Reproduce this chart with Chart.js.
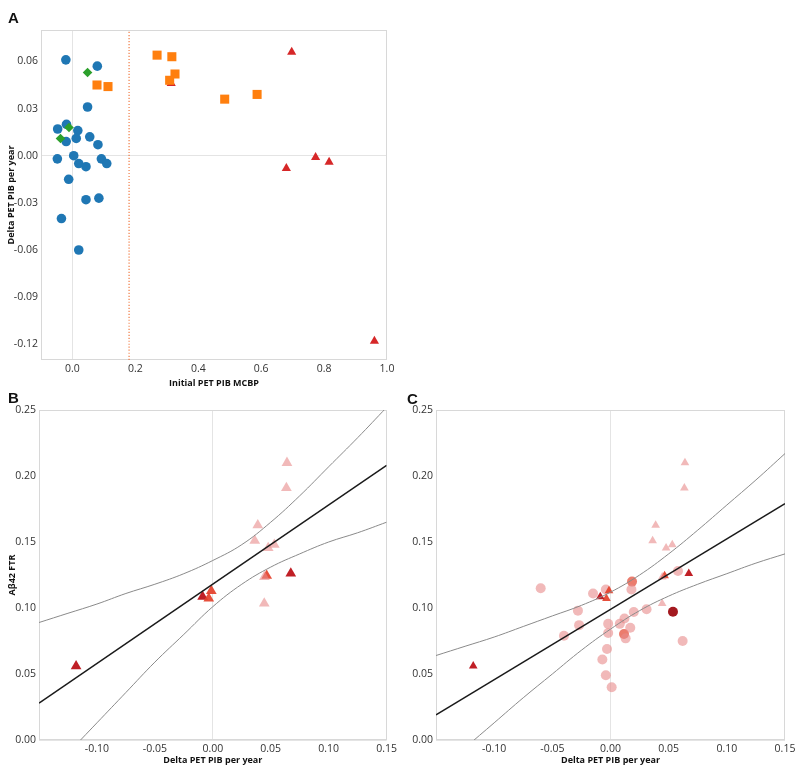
<!DOCTYPE html>
<html>
<head>
<meta charset="utf-8">
<script src="https://cdn.jsdelivr.net/npm/chart.js@4.4.1/dist/chart.umd.min.js"></script>
<style>
    body { margin: 0; background: #fff; }
    #wrap { position: relative; width: 800px; height: 780px; }
    .panel { position: absolute; width: 400px; height: 395px; }
    .tag { position: absolute; font: bold 15px "Liberation Sans", Arial, sans-serif; line-height: 15px; color: #111; }
</style>
</head>
<body>
<div id="wrap">
    <div class="panel" style="left:0;top:0"><canvas id="chartA" width="400" height="395"></canvas></div>
    <div class="panel" style="left:0;top:385px"><canvas id="chartB" width="400" height="395"></canvas></div>
    <div class="panel" style="left:400px;top:385px"><canvas id="chartC" width="400" height="395"></canvas></div>
    <div class="tag" style="left:8px;top:10px">A</div>
    <div class="tag" style="left:8px;top:390px">B</div>
    <div class="tag" style="left:407px;top:391px">C</div>
</div>
<script>
(function() {
    'use strict';

    // Panel A
    var aXTicks = [0, 0.2, 0.4, 0.6, 0.8, 1.0];
    var aYTicks = [-0.12, -0.09, -0.06, -0.03, 0, 0.03, 0.06];
    var aXRange = [-0.1, 1.0];
    var aYRange = [-0.13, 0.08];
    var aCutoff = 0.18;

    var aBlueX = [-0.021, 0.079, 0.048, -0.047, -0.019, 0.017, 0.012, -0.020, 0.055, 0.081, -0.048,
                  0.004, 0.020, 0.043, 0.092, 0.109, -0.012, 0.043, 0.084, -0.035, 0.020];
    var aBlueY = [0.061, 0.057, 0.031, 0.017, 0.020, 0.016, 0.011, 0.009, 0.012, 0.007, -0.002,
                  0.000, -0.005, -0.007, -0.002, -0.005, -0.015, -0.028, -0.027, -0.040, -0.060];
    var aGreenX = [0.048, -0.011, -0.038];
    var aGreenY = [0.053, 0.018, 0.011];
    var aOrangeX = [0.269, 0.316, 0.326, 0.309, 0.078, 0.113, 0.484, 0.587];
    var aOrangeY = [0.064, 0.063, 0.052, 0.048, 0.045, 0.044, 0.036, 0.039];
    var aRedX = [0.697, 0.314, 0.680, 0.773, 0.816, 0.960];
    var aRedY = [0.066, 0.046, -0.008, -0.001, -0.004, -0.118];

    // Panels B and C
    var bcXTicks = [-0.10, -0.05, 0, 0.05, 0.10, 0.15];
    var bcYTicks = [0, 0.05, 0.10, 0.15, 0.20, 0.25];
    var bcXRange = [-0.15, 0.15];
    var bcYRange = [0, 0.25];

    var triLightX = [0.064, 0.0635, 0.0388, 0.0362, 0.0478, 0.0531, 0.0445, 0.0444];
    var triLightY = [0.210, 0.191, 0.1627, 0.151, 0.1455, 0.148, 0.1235, 0.1035];
    var triMidX = [0.0465, -0.0013, -0.0035];
    var triMidY = [0.1245, 0.113, 0.1072];
    var triDarkX = [0.0673, -0.0088, -0.118];
    var triDarkY = [0.1262, 0.1086, 0.056];

    var cCircLightX = [-0.060, -0.015, -0.004, 0.018, -0.028, -0.027, -0.040, -0.002, 0.008, 0.012, 0.020,
                       0.031, 0.017, -0.002, 0.013, -0.003, -0.007, -0.004, 0.001, 0.062, 0.058];
    var cCircLightY = [0.115, 0.111, 0.114, 0.114, 0.098, 0.087, 0.079, 0.088, 0.088, 0.092, 0.097,
                       0.099, 0.085, 0.081, 0.077, 0.069, 0.061, 0.049, 0.040, 0.075, 0.128];
    var cCircMidX = [0.0185, 0.0116];
    var cCircMidY = [0.120, 0.0803];
    var cCircDarkX = [0.0537];
    var cCircDarkY = [0.0972];

    var bandX = [-0.15, -0.125, -0.10, -0.075, -0.05, -0.025, 0, 0.025, 0.05, 0.075, 0.10, 0.125, 0.15];
    var bUpper = [0.089, 0.096, 0.103, 0.111, 0.118, 0.126, 0.136, 0.148, 0.165, 0.185, 0.207, 0.229, 0.252];
    var bLower = [-0.033, -0.010, 0.013, 0.036, 0.059, 0.080, 0.101, 0.118, 0.131, 0.141, 0.150, 0.157, 0.165];
    var bFitX = [-0.15, 0.15];
    var bFitY = [0.028, 0.208];
    var cUpper = [0.064, 0.071, 0.078, 0.086, 0.094, 0.102, 0.112, 0.125, 0.141, 0.159, 0.178, 0.197, 0.217];
    var cLower = [-0.026, -0.006, 0.013, 0.032, 0.050, 0.068, 0.084, 0.098, 0.109, 0.118, 0.126, 0.134, 0.141];
    var cFitX = [-0.15, 0.15];
    var cFitY = [0.019, 0.179];

    var LIGHT = 'rgba(232,138,138,0.6)';
    var MID = 'rgba(228,64,42,0.92)';
    var DARK = '#c01f26';

    var framePlugin = {
        id: 'frame',
        beforeDatasetsDraw: function(chart) {
            var a = chart.chartArea;
            var ctx = chart.ctx;
            ctx.save();
            ctx.strokeStyle = '#d8d8d8';
            ctx.lineWidth = 1;
            ctx.strokeRect(Math.round(a.left) + 0.5, Math.round(a.top) + 0.5,
                Math.round(a.right - a.left) - 1, Math.round(a.bottom - a.top) - 1);
            ctx.restore();
        }
    };

    function pts(xs, ys) {
        return xs.map(function(x, i) { return { x: x, y: ys[i] }; });
    }

    function marks(xs, ys, style, radius, color) {
        return {
            data: pts(xs, ys),
            pointStyle: style,
            pointRadius: radius,
            pointBackgroundColor: color,
            pointBorderWidth: 0,
            showLine: false
        };
    }

    function curve(xs, ys, color, width, dash) {
        return {
            data: pts(xs, ys),
            showLine: true,
            borderColor: color,
            borderWidth: width,
            borderDash: dash || [],
            pointRadius: 0,
            tension: 0.4,
            clip: { left: 0, top: 0, right: 0, bottom: 0 }
        };
    }

    function axis(range, ticks, decimals, title, size, titlePad) {
        return {
            type: 'linear',
            min: range[0],
            max: range[1],
            afterBuildTicks: function(s) {
                s.ticks = ticks.map(function(v) { return { value: v }; });
            },
            afterFit: function(s) {
                if (s.isHorizontal()) {
                    s.height = size;
                } else {
                    s.width = size;
                }
            },
            grid: {
                drawTicks: false,
                color: function(c) {
                    return c.tick && Math.abs(c.tick.value) < 1e-9 ? '#e4e4e4' : 'rgba(0,0,0,0)';
                }
            },
            border: { display: false },
            ticks: {
                padding: 3,
                autoSkip: false,
                maxRotation: 0,
                color: '#333',
                font: { family: 'Open Sans', size: 10.5 },
                callback: function(v) { return Number(v).toFixed(decimals); }
            },
            title: {
                display: !!title,
                text: title || '',
                color: '#111',
                font: { family: 'Open Sans', size: 9, weight: 'bold' },
                padding: titlePad
            }
        };
    }

    function makeChart(id, datasets, scales, padding) {
        return new Chart(document.getElementById(id), {
            type: 'scatter',
            data: { datasets: datasets },
            options: {
                responsive: false,
                animation: false,
                events: [],
                layout: { padding: padding },
                plugins: { legend: { display: false }, tooltip: { enabled: false } },
                scales: scales
            },
            plugins: [framePlugin]
        });
    }

    makeChart('chartA', [
        marks(aOrangeX, aOrangeY, 'rect', 6.4, '#ff7f0e'),
        marks(aRedX, aRedY, 'triangle', 5.3, '#d62728'),
        marks(aGreenX, aGreenY, 'rectRot', 4.8, '#2ca02c'),
        marks(aBlueX, aBlueY, 'circle', 4.8, '#1f77b4'),
        curve([aCutoff, aCutoff], aYRange, 'rgba(240,110,50,0.9)', 1.2, [1.2, 1.8])
    ], {
        x: axis(aXRange, aXTicks, 1, 'Initial PET PIB MCBP', 29, { top: 0, bottom: 0 }),
        y: axis(aYRange, aYTicks, 2, 'Delta PET PIB per year', 41, { top: 6, bottom: 0 })
    }, { top: 30, right: 13, bottom: 6, left: 0 });

    makeChart('chartB', [
        curve(bFitX, bFitY, '#1a1a1a', 1.5),
        curve(bandX, bUpper, '#8a8a8a', 1),
        curve(bandX, bLower, '#8a8a8a', 1),
        marks(triLightX, triLightY, 'triangle', 6.2, LIGHT),
        marks(triMidX, triMidY, 'triangle', 6.2, MID),
        marks(triDarkX, triDarkY, 'triangle', 6.2, DARK)
    ], {
        x: axis(bcXRange, bcXTicks, 2, 'Delta PET PIB per year', 26, { top: 0, bottom: 0 }),
        y: axis(bcYRange, bcYTicks, 2, 'A\u03b242 FTR', 39, { top: 7, bottom: 0 })
    }, { top: 25, right: 13, bottom: 14, left: 0 });

    makeChart('chartC', [
        curve(cFitX, cFitY, '#1a1a1a', 1.5),
        curve(bandX, cUpper, '#8a8a8a', 1),
        curve(bandX, cLower, '#8a8a8a', 1),
        marks(cCircDarkX, cCircDarkY, 'circle', 5, '#a3191f'),
        marks(triLightX, triLightY, 'triangle', 5, LIGHT),
        marks(triDarkX, triDarkY, 'triangle', 5, DARK),
        marks(triMidX, triMidY, 'triangle', 5, MID),
        marks(cCircLightX, cCircLightY, 'circle', 5, LIGHT),
        marks(cCircMidX, cCircMidY, 'circle', 5, 'rgba(228,80,60,0.75)')
    ], {
        x: axis(bcXRange, bcXTicks, 2, 'Delta PET PIB per year', 26, { top: 0, bottom: 0 }),
        y: axis(bcYRange, bcYTicks, 2, '', 36, { top: 0, bottom: 0 })
    }, { top: 25, right: 15, bottom: 14, left: 0 });
})();
</script>
</body>
</html>
